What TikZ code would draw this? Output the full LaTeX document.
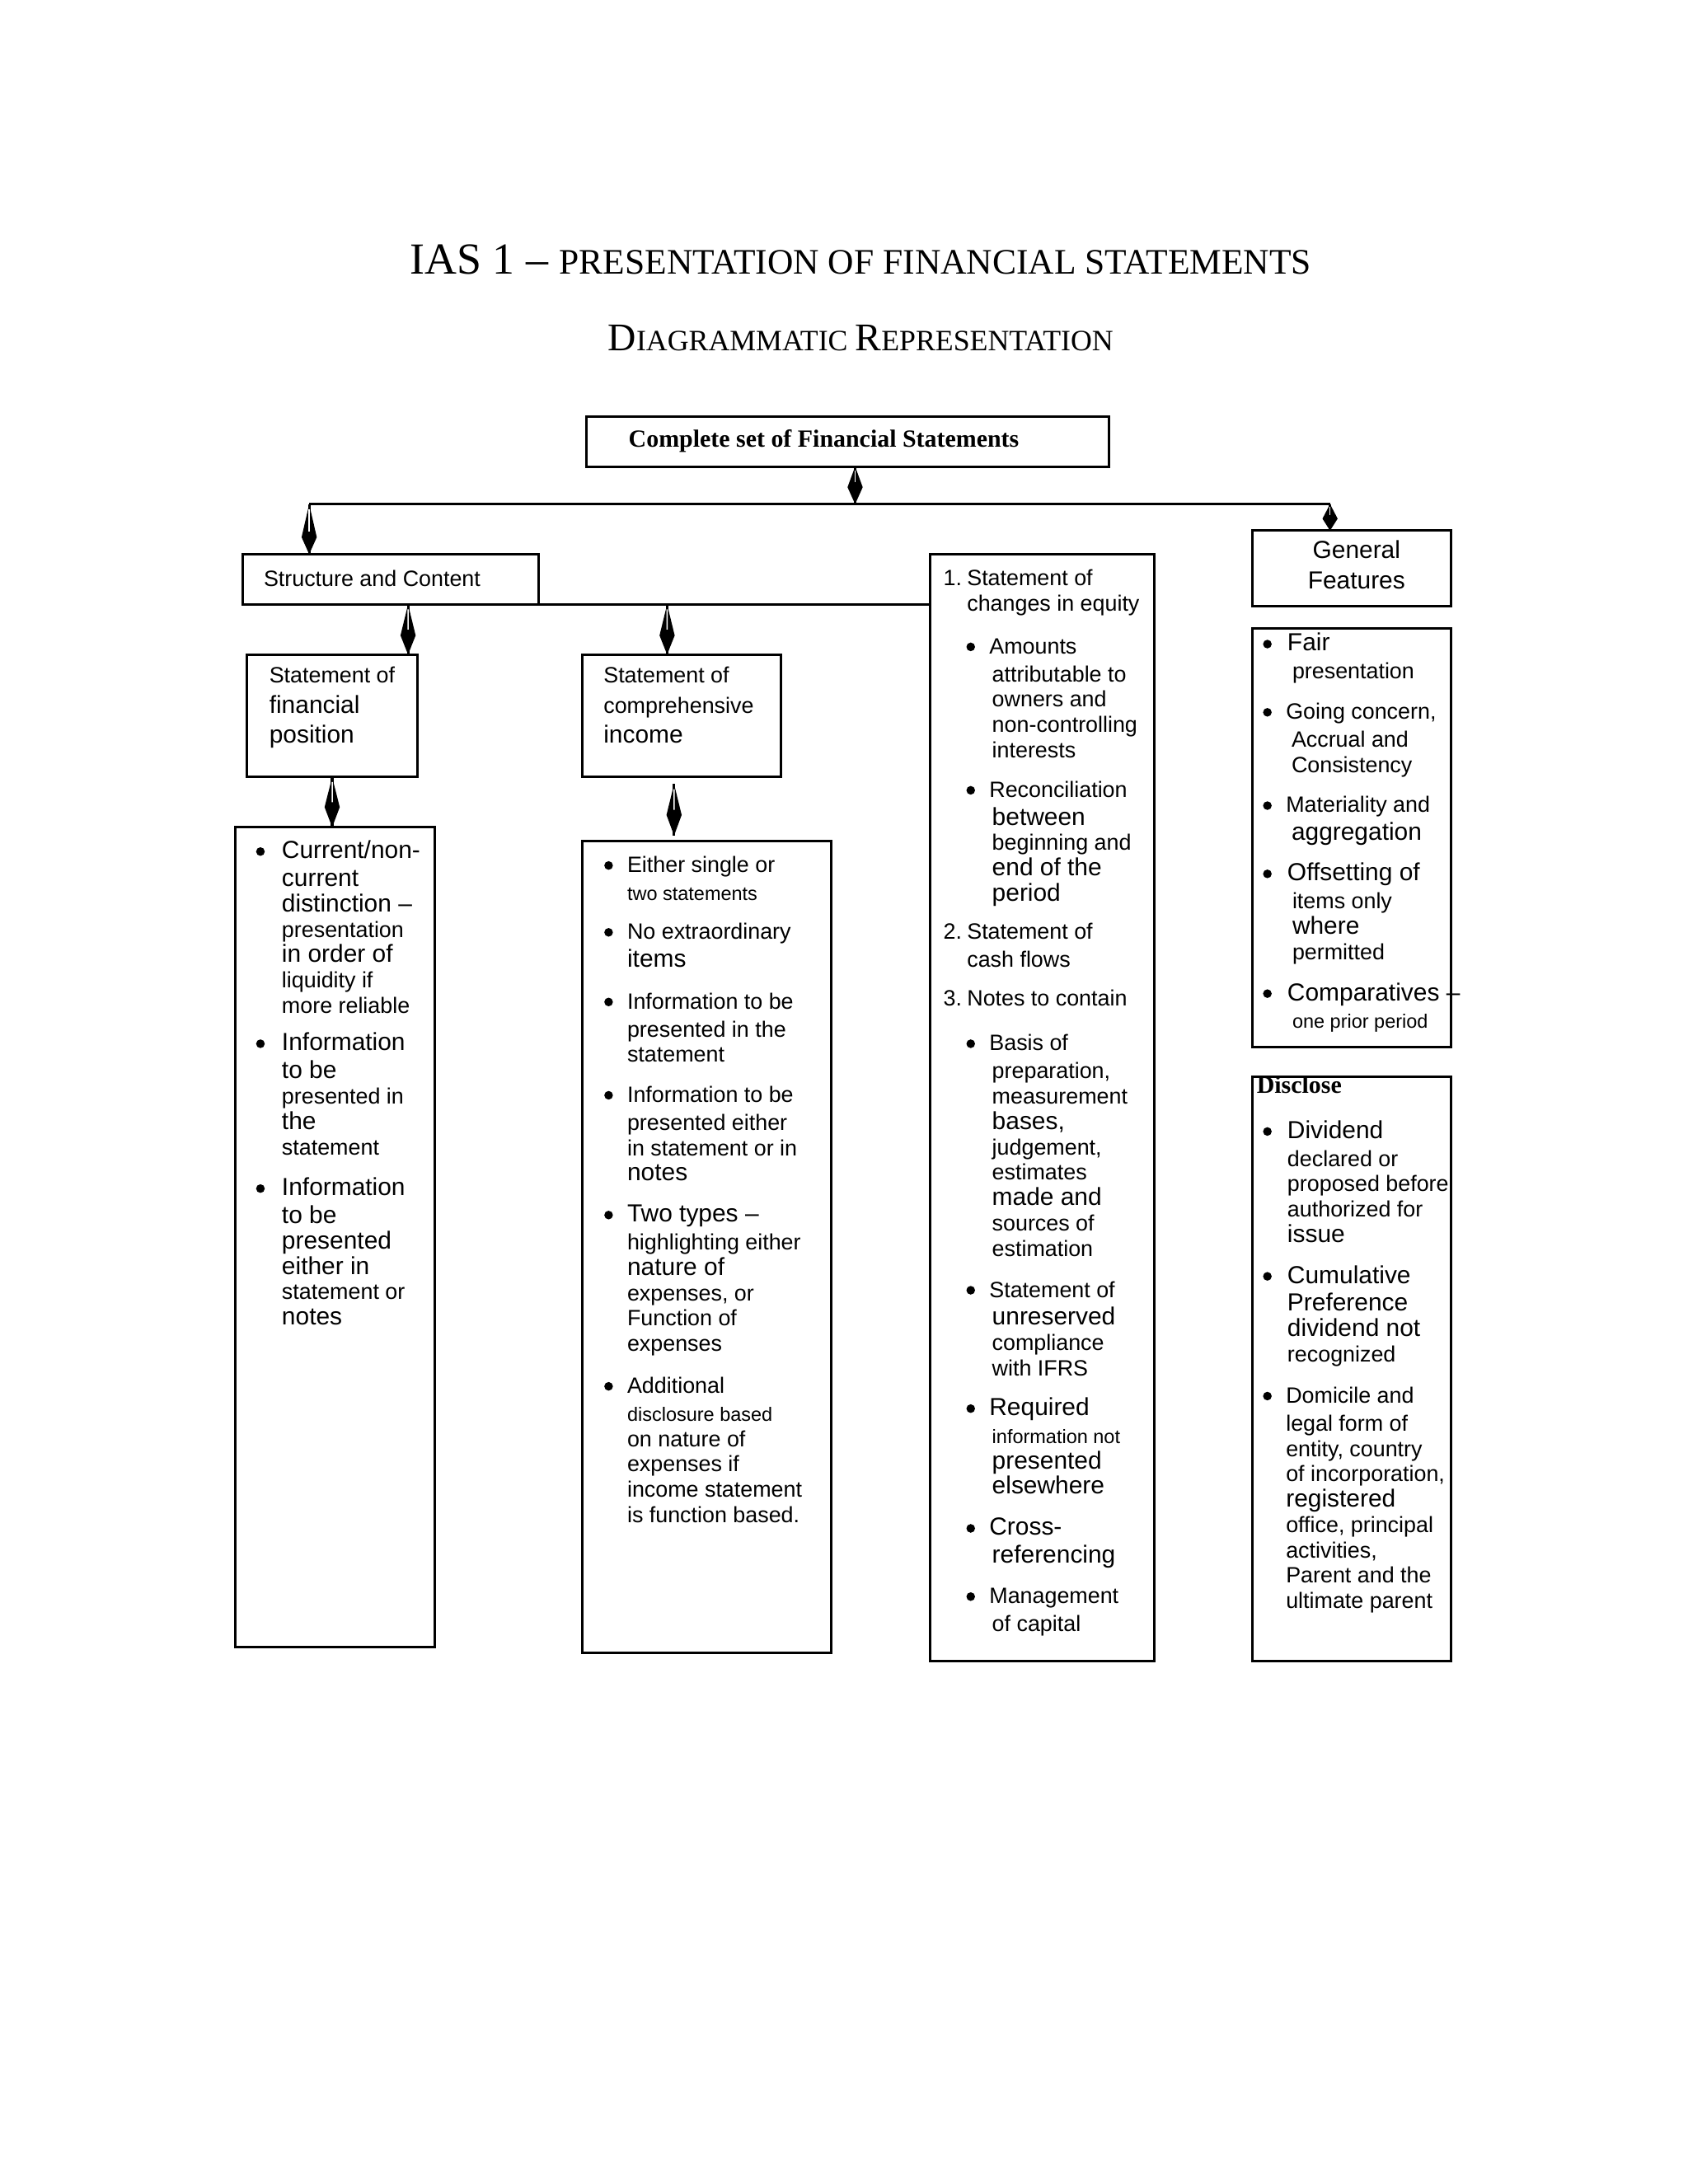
\documentclass[tikz,border=0pt]{standalone}
\usepackage{fontspec}
\setmainfont{Liberation Serif}
\newfontfamily\arialf{Liberation Sans}
\usetikzlibrary{calc}
\newcommand\fS{\fontsize{7.02pt}{9.2pt}\selectfont}
\newcommand\fM{\fontsize{8.03pt}{9.2pt}\selectfont}
\newcommand\fL{\fontsize{8.94pt}{9.2pt}\selectfont}
\newcommand\lns[2][9.2pt]{\vtop{\baselineskip=#1\relax\lineskiplimit=0pt\lineskip=0pt\halign{##\hfil\cr#2\crcr}}}
\newcommand\lnsi[2]{\vtop{\baselineskip=9.2pt\relax\lineskiplimit=0pt\lineskip=0pt\halign{\kern#1##\hfil\cr\kern-#1#2\crcr}}}
\newcommand\lnsc[2][9.2pt]{\vtop{\baselineskip=#1\relax\lineskiplimit=0pt\lineskip=0pt\halign{\hfil##\hfil\cr#2\crcr}}}
\newcommand\nx{\cr\noalign{\kern0.9pt}}
\newcommand\bx[5]{\node[boxst, minimum width={(#4-#2)*0.505pt}, minimum height={(#5-#3)*0.505pt}] (#1) at (#2,#3) {};}
\newcommand\kite[4]{%
  \draw[conn] (#1) -- (#2);
  \fill (#1) -- ($(#1)!#3!(#2)+(2.75pt,0)$) -- (#2) -- ($(#1)!#3!(#2)+(-2.75pt,0)$) -- cycle;
  \draw[white, line width=0.45pt] ($(#1)!0.1!(#2)$) -- ($(#1)!#4!(#2)$);
}
\newcommand\bitem[6][0pt]{%
  \fill (#3,#5+0.5) circle[radius=1.57pt];
  \node[itemtxt] (#2) at (#4,#5+5.5) {\lnsi{#1}{#6}};
}
\begin{document}
\begin{tikzpicture}[x=0.505pt,y=-0.505pt,
  boxst/.style={draw, line width=0.9pt, inner sep=0, outer sep=0, anchor=north west},
  conn/.style={line width=0.9pt},
  itemtxt/.style={inner sep=0, anchor=base west, font=\arialf\fM}]
\useasboundingbox (0,0) rectangle (1211.9,1568.3);
\fill[white] (0,0) rectangle (1211.9,1568.3);

% titles
\node[anchor=base, inner sep=0, font=\fontsize{16.1pt}{18pt}\selectfont] (title) at (618,197)
  {IAS 1 – {\fontsize{13pt}{14pt}\selectfont PRESENTATION OF FINANCIAL STATEMENTS}};
\node[anchor=base, inner sep=0, font=\fontsize{14.2pt}{16pt}\selectfont] (subtitle) at (618,252)
  {D{\fontsize{10.7pt}{12pt}\selectfont IAGRAMMATIC }R{\fontsize{10.7pt}{12pt}\selectfont EPRESENTATION}};

% boxes
\bx{top}{421}{299}{796}{335}
\bx{struct}{174}{398}{387}{434}
\bx{sfp}{177}{470}{300}{558}
\bx{sfplist}{169}{594}{312}{1183}
\bx{sci}{418}{470}{561}{558}
\bx{scilist}{418}{604}{597}{1187}
\bx{other}{668}{398}{829}{1193}
\bx{gen}{899}{381}{1042}{435}
\bx{genlist}{899}{451}{1042}{752}
\bx{disc}{899}{773}{1042}{1193}

% connectors
\coordinate (jL) at (222,362);
\coordinate (jR) at (955,362);
\coordinate (tS) at ($(top.south)+(5.5,0)$);
\coordinate (jM) at (tS |- jL);
\draw[conn] (jL) -- (jR);
\kite{tS}{jM}{0.55}{0.42}
\coordinate (sT) at (jL |- struct.north);
\kite{jL}{sT}{0.66}{0.55}
\coordinate (gT) at (jR |- gen.north);
\kite{jR}{gT}{0.55}{0.42}
\draw[conn] (struct.south east) -- (struct.south east -| other.west);
\coordinate (a1e) at ($(sfp.north east)+(-7,0)$);
\coordinate (a1s) at (a1e |- struct.south);
\kite{a1s}{a1e}{0.62}{0.5}
\coordinate (a2e) at ($(sci.north west)+(61,0)$);
\coordinate (a2s) at (a2e |- struct.south);
\kite{a2s}{a2e}{0.62}{0.5}
\coordinate (a3s) at (sfp.south);
\coordinate (a3e) at (sfp.south |- sfplist.north);
\kite{a3s}{a3e}{0.6}{0.5}
\coordinate (a4s) at ($(sci.south west)+(66,5)$);
\coordinate (a4e) at ($(scilist.north west)+(66,-4)$);
\kite{a4s}{a4e}{0.6}{0.5}

% box headings
\node[anchor=base west, inner sep=0, font=\bfseries\fontsize{8.94pt}{10pt}\selectfont] (toptxt) at (451,321) {Complete set of Financial Statements};
\node[itemtxt] (sctxt) at (189,421) {\fM Structure and Content};
\node[itemtxt] (sfptxt) at (193,490.5) {\lns[10.85pt]{\fM Statement of\cr \fL financial\cr \fL position}};
\node[itemtxt] (scitxt) at (433,490.5) {\lns[10.85pt]{\fM Statement of\cr \fM comprehensive\cr \fL income}};
\node[anchor=base, inner sep=0, font=\arialf\fL] (gentxt) at (974,401) {\lnsc[11.1pt]{General\cr Features}};
\node[anchor=base west, inner sep=0, font=\bfseries\fontsize{8.94pt}{10pt}\selectfont] (disctxt) at (902,785) {Disclose};

% column 1
\bitem{b1a}{187}{202}{611}{\fL Current/non-\nx \fL current\cr \fL distinction –\cr \fM presentation\cr \fL in order of\cr \fM liquidity if\cr \fM more reliable}
\bitem{b1b}{187}{202}{749}{\fL Information\nx \fL to be\cr \fM presented in\cr \fL the\cr \fM statement}
\bitem{b1c}{187}{202}{853}{\fL Information\nx \fL to be\cr \fL presented\cr \fL either in\cr \fM statement or\cr \fL notes}

% column 2
\bitem{b2a}{437}{450}{621}{\fM Either single or\nx \fS two statements}
\bitem{b2b}{437}{450}{669}{\fM No extraordinary\nx \fL items}
\bitem{b2c}{437}{450}{719}{\fM Information to be\nx \fM presented in the\cr \fM statement}
\bitem{b2d}{437}{450}{786}{\fM Information to be\nx \fM presented either\cr \fM in statement or in\cr \fL notes}
\bitem{b2e}{437}{450}{872}{\fL Two types –\nx \fM highlighting either\cr \fL nature of\cr \fM expenses, or\cr \fM Function of\cr \fM expenses}
\bitem{b2f}{437}{450}{995}{\fM Additional\nx \fS disclosure based\cr \fM on nature of\cr \fM expenses if\cr \fM income statement\cr \fM is function based.}

% column 3
\node[itemtxt] (n1) at (677,420.5) {\fM 1.};
\node[itemtxt] (c3a) at (694,420.5) {\lns{\fM Statement of\cr \fM changes in equity}};
\bitem[1pt]{c3b}{697}{710}{464}{\fM Amounts\nx \fM attributable to\cr \fM owners and\cr \fM non-controlling\cr \fM interests}
\bitem[1pt]{c3c}{697}{710}{567}{\fM Reconciliation\nx \fL between\cr \fM beginning and\cr \fL end of the\cr \fL period}
\node[itemtxt] (n2) at (677,674.5) {\fM 2.};
\node[itemtxt] (c3d) at (694,674.5) {\lns{\fM Statement of\nx \fM cash flows}};
\node[itemtxt] (n3) at (677,722.5) {\fM 3.};
\node[itemtxt] (c3e) at (694,722.5) {\fM Notes to contain};
\bitem[1pt]{c3f}{697}{710}{749}{\fM Basis of\nx \fM preparation,\cr \fM measurement\cr \fL bases,\cr \fM judgement,\cr \fM estimates\cr \fL made and\cr \fM sources of\cr \fM estimation}
\bitem[1pt]{c3g}{697}{710}{926}{\fM Statement of\nx \fL unreserved\cr \fM compliance\cr \fM with IFRS}
\bitem[1pt]{c3h}{697}{710}{1011}{\fL Required\nx \fS information not\cr \fL presented\cr \fL elsewhere}
\bitem[1pt]{c3i}{697}{710}{1097}{\fL Cross-\nx \fL referencing}
\bitem[1pt]{c3j}{697}{710}{1146}{\fM Management\nx \fM of capital}

% column 4
\bitem[1.8pt]{g1}{910}{924}{462}{\fL Fair\nx \fM presentation}
\bitem[2pt]{g2}{910}{923}{511}{\fM Going concern,\nx \fM Accrual and\cr \fM Consistency}
\bitem[2pt]{g3}{910}{923}{578}{\fM Materiality and\nx \fL aggregation}
\bitem[1.8pt]{g4}{910}{924}{627}{\fL Offsetting of\nx \fM items only\cr \fL where\cr \fM permitted}
\bitem[1.8pt]{g5}{910}{924}{713}{\fL Comparatives –\nx \fS one prior period}
\bitem{d1}{910}{924}{812}{\fL Dividend\nx \fM declared or\cr \fM proposed before\cr \fM authorized for\cr \fL issue}
\bitem{d2}{910}{924}{916}{\fL Cumulative\nx \fL Preference\cr \fL dividend not\cr \fM recognized}
\bitem{d3}{910}{923}{1002}{\fM Domicile and\nx \fM legal form of\cr \fM entity, country\cr \fM of incorporation,\cr \fL registered\cr \fM office, principal\cr \fM activities,\cr \fM Parent and the\cr \fM ultimate parent}
\end{tikzpicture}
\end{document}
